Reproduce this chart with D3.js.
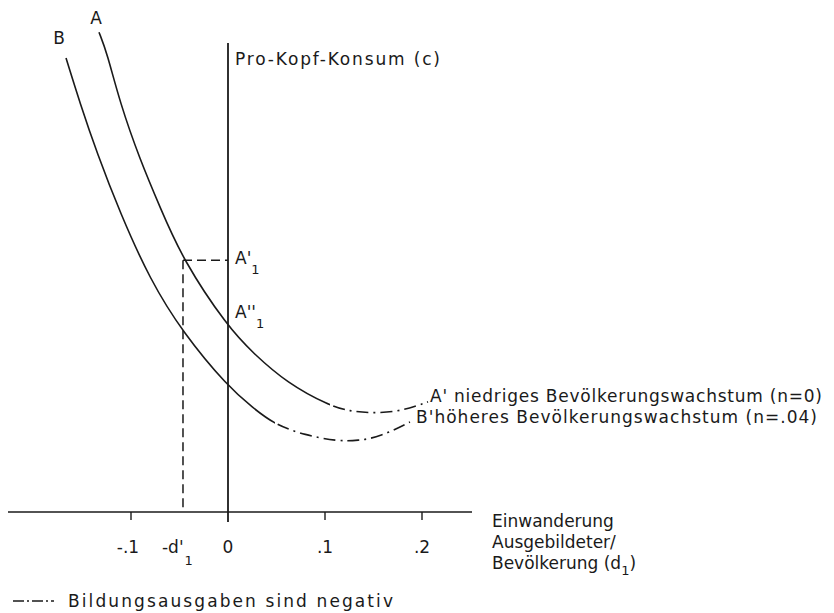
<!DOCTYPE html>
<html><head><meta charset="utf-8">
<script src="https://cdn.jsdelivr.net/npm/d3@7"></script>
<style>
html,body{margin:0;padding:0;background:#fff;}
svg{display:block;}
text{font-family:"DejaVu Sans",sans-serif;fill:#1a1a1a;}
</style></head>
<body>
<svg id="chart" width="834" height="613"></svg>
<script>
// ---- data (d1 = immigration of educated / population, c = per-capita consumption, arbitrary units)
const curveA = [[-0.133,102.3],[-0.1247,97.9],[-0.1113,87.2],[-0.0907,75.1],[-0.0701,65.0],[-0.0464,53.7],[0,39.4],[0.0258,33.9],[0.0608,27.5],[0.1052,22.6],[0.1258,21.5],[0.1464,21.1],[0.1722,21.3],[0.1948,22.6],[0.2062,23.5]];
const curveB = [[-0.167,96.8],[-0.1526,87.2],[-0.135,76.5],[-0.1113,63.8],[-0.0804,49.5],[-0.0464,38.2],[0,26.7],[0.0258,22.2],[0.0485,18.6],[0.0794,16.4],[0.1124,15.1],[0.1340,15.2],[0.1567,16.0],[0.1876,19.2]];
const dashStartA = 0.1052;   // from here curve A is dash-dotted (negative education spending)
const dashStartB = 0.0485;
const tickValues = [-0.1, 0, 0.1, 0.2];
const tickLabels = ["-.1", "0", ".1", ".2"];
const dPrime = -0.0464, cPrimeA = 53.7;
const xTitle = ["Einwanderung", "Ausgebildeter/", "Bevölkerung (d"];
const yTitle = "Pro-Kopf-Konsum (c)";
const labelA = "A' niedriges Bevölkerungswachstum (n=0)";
const labelB = "B'höheres Bevölkerungswachstum (n=.04)";
const legendText = "Bildungsausgaben sind negativ";

const svg = d3.select("#chart");
const x = d3.scaleLinear().domain([0, 0.1]).range([228, 325]);
const y = d3.scaleLinear().domain([0, 100]).range([512, 43]);
const ink = "#1a1a1a";
const dashDot = "12,5,2,5";
const FS = 17;

// clip regions for solid / dash-dot parts
const defs = svg.append("defs");
[["solidA", -1, dashStartA], ["dashA", dashStartA, 1], ["solidB", -1, dashStartB], ["dashB", dashStartB, 1]].forEach(([id, a, b]) => {
  const xa = Math.max(0, x(a)), xb = Math.min(834, x(b));
  defs.append("clipPath").attr("id", id).append("rect")
    .attr("x", xa).attr("y", 0).attr("width", xb - xa).attr("height", 613);
});

// x axis line
svg.append("line").attr("x1", 8).attr("x2", 472).attr("y1", y(0)).attr("y2", y(0))
  .attr("stroke", ink).attr("stroke-width", 1.6);
// y axis line
svg.append("line").attr("x1", x(0)).attr("x2", x(0)).attr("y1", y(100)).attr("y2", y(0) + 10)
  .attr("stroke", ink).attr("stroke-width", 1.8);
// ticks
svg.selectAll(".tick").data(tickValues.filter(v => v !== 0)).enter().append("line")
  .attr("x1", d => x(d)).attr("x2", d => x(d)).attr("y1", y(0)).attr("y2", y(0) + 8)
  .attr("stroke", ink).attr("stroke-width", 1.4);
svg.selectAll(".tl").data(tickValues).enter().append("text")
  .attr("x", d => x(d) - (d < 0 ? 3 : 0)).attr("y", 553).attr("text-anchor", "middle")
  .attr("font-size", FS).text((d, i) => tickLabels[i]);
// -d'1 label
const dl = svg.append("text").attr("x", x(dPrime) - 21).attr("y", 553).attr("font-size", FS);
dl.append("tspan").text("-d'");
dl.append("tspan").attr("font-size", 13).attr("dy", 12).attr("dx", 1).text("1");

// dashed guide lines
svg.append("line").attr("x1", x(dPrime)).attr("x2", x(0)).attr("y1", y(cPrimeA)).attr("y2", y(cPrimeA))
  .attr("stroke", ink).attr("stroke-width", 1.5).attr("stroke-dasharray", "9,5");
svg.append("line").attr("x1", x(dPrime)).attr("x2", x(dPrime)).attr("y1", y(cPrimeA)).attr("y2", y(0))
  .attr("stroke", ink).attr("stroke-width", 1.5).attr("stroke-dasharray", "9,5");

// curves
const line = d3.line().x(d => x(d[0])).y(d => y(d[1])).curve(d3.curveBasis);
[[curveA, "solidA", null], [curveA, "dashA", dashDot], [curveB, "solidB", null], [curveB, "dashB", dashDot]].forEach(([data, clip, dash]) => {
  svg.append("path").attr("d", line(data)).attr("fill", "none").attr("stroke", ink)
    .attr("stroke-width", 1.6).attr("stroke-dasharray", dash).attr("clip-path", `url(#${clip})`);
});

// curve labels
svg.append("text").attr("x", x(curveA[0][0]) - 3).attr("y", 24).attr("text-anchor", "middle").attr("font-size", FS).text("A");
svg.append("text").attr("x", x(curveB[0][0]) - 7).attr("y", 44).attr("text-anchor", "middle").attr("font-size", FS).text("B");
svg.append("text").attr("x", 430).attr("y", 402).attr("font-size", FS)
  .attr("textLength", 392).attr("lengthAdjust", "spacing").text(labelA);
svg.append("text").attr("x", 416).attr("y", 423).attr("font-size", FS)
  .attr("textLength", 401).attr("lengthAdjust", "spacing").text(labelB);

// y axis title
svg.append("text").attr("x", 235).attr("y", 65).attr("font-size", FS)
  .attr("textLength", 205).attr("lengthAdjust", "spacing").text(yTitle);
// A'1 and A''1
const a1 = svg.append("text").attr("x", 235).attr("y", 264).attr("font-size", FS);
a1.append("tspan").text("A'");
a1.append("tspan").attr("font-size", 13).attr("dy", 10).text("1");
const a2 = svg.append("text").attr("x", 235).attr("y", 318).attr("font-size", FS);
a2.append("tspan").text("A''");
a2.append("tspan").attr("font-size", 13).attr("dy", 10).text("1");

// x axis title
xTitle.forEach((t, i) => {
  const tt = svg.append("text").attr("x", 492).attr("y", 527 + i * 21).attr("font-size", FS).text(t);
  if (i === 2) {
    tt.append("tspan").attr("font-size", 13).attr("dy", 6).text("1");
    tt.append("tspan").attr("dy", -6).text(")");
  }
});

// legend
svg.append("line").attr("x1", 13).attr("x2", 54).attr("y1", 601).attr("y2", 601)
  .attr("stroke", ink).attr("stroke-width", 1.6).attr("stroke-dasharray", "11,3,2,3");
svg.append("text").attr("x", 68).attr("y", 607).attr("font-size", FS)
  .attr("textLength", 325).attr("lengthAdjust", "spacing").text(legendText);
</script>
</body></html>
